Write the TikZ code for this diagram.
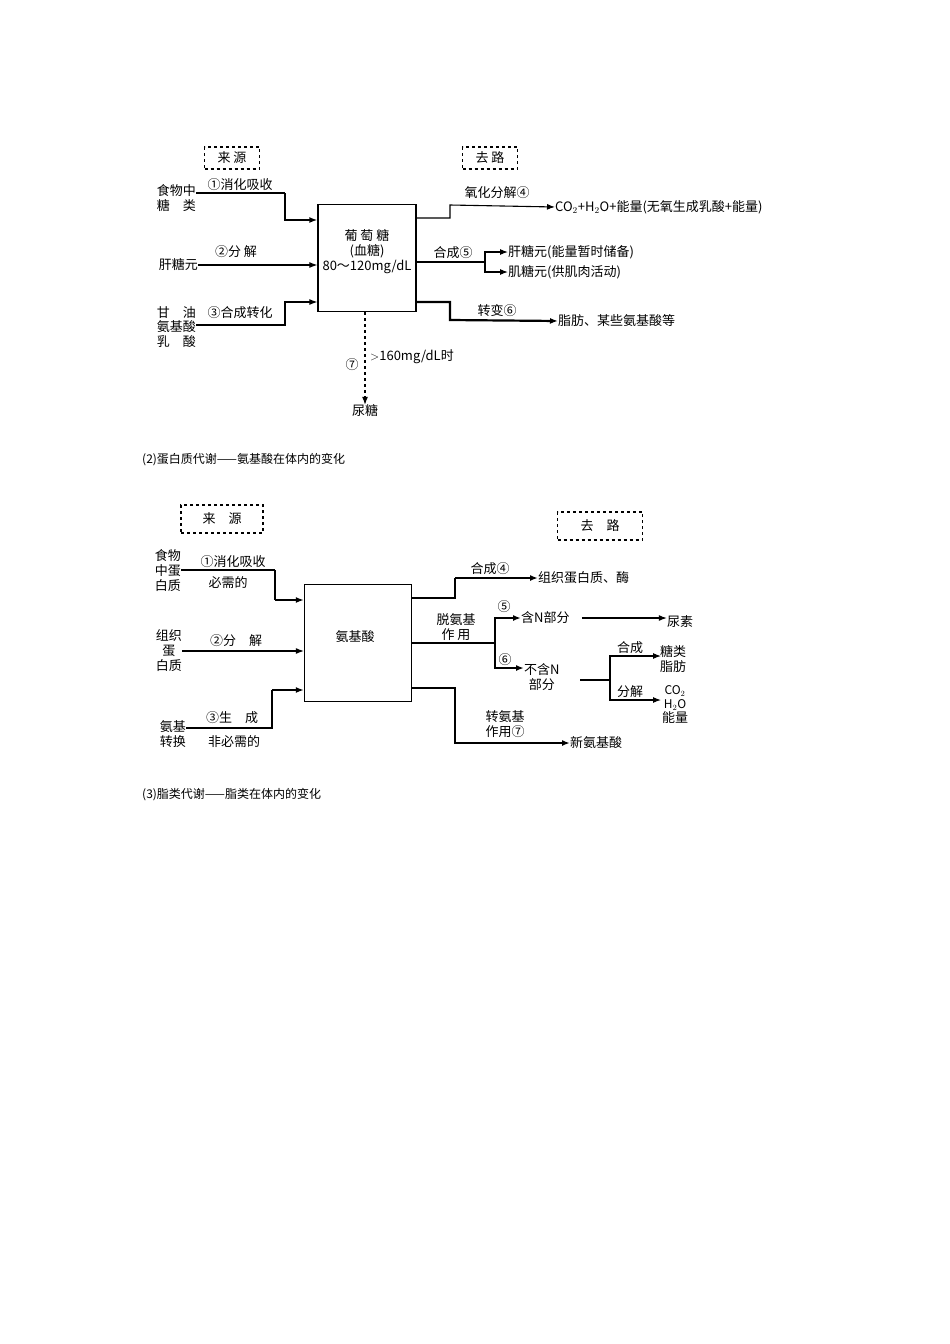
\documentclass[tikz,border=0pt]{standalone}
\usepackage{fontspec}
\setmainfont{Noto Sans CJK SC}
\usetikzlibrary{arrows.meta}
\begin{document}
\begin{tikzpicture}[x=1pt,y=-1pt,
  every node/.style={inner sep=0pt,font=\fontsize{13}{15}\selectfont},
  ln/.style={line width=1.1pt},
  tk/.style={line width=2.2pt},
  ar/.style={-{Latex[length=8pt,width=6pt]}},
  dbox/.style={draw,dashed,line width=1.3pt,minimum height=22pt},
  mbox/.style={draw,line width=1.3pt},
  sm/.style={font=\fontsize{12}{14}\selectfont}]
\useasboundingbox (0,0) rectangle (950,1344);
% ---------- diagram 1 ----------
\node[dbox,minimum width=55pt] (s1) at (232,158) {来 源};
\node[dbox,minimum width=55pt] (g1) at (490,158) {去 路};
\node[mbox,minimum width=98pt,minimum height=107pt] (B1) at (367,258) {};
\node[align=center] (B1t) at (367,252) {葡 萄 糖\\(血糖)\\80～120mg/dL};
\node[align=left,anchor=east] (a1) at (196,198) {食物中\\糖\quad 类};
\node[anchor=east] (a2) at (198,265) {肝糖元};
\node[align=left,anchor=east,font=\fontsize{13}{14.5}\selectfont] (a3) at (196,327) {甘\quad 油\\氨基酸\\乳\quad 酸};
\coordinate (c11) at (285,193); \coordinate (c12) at (285,220);
\draw[ln] (a1.east|-c11) -- (c11);
\draw[tk,ar] (c11) -- (c12) -- (B1.west|-c12);
\node at (240,185) {①消化吸收};
\draw[ln,ar] (a2) -- (B1.west|-a2);
\node at (236,252) {②分 解};
\coordinate (c31) at (285,325); \coordinate (c32) at (285,302);
\draw[ln,ar] (a3.east|-c31) -- (c31) -- (c32) -- (B1.west|-c32);
\node at (240,313) {③合成转化};
% right
\node[anchor=west] (r1) at (555,207) {CO$_2$+H$_2$O+能量(无氧生成乳酸+能量)};
\coordinate (d1) at (450,218); \coordinate (d2) at (450,205);
\draw[ln,ar] (B1.east|-d1) -- (d1) -- (d2) -- (r1.west);
\node at (497,193) {氧化分解④};
\node[anchor=west] (r2a) at (508,252) {肝糖元(能量暂时储备)};
\node[anchor=west] (r2b) at (508,272) {肌糖元(供肌肉活动)};
\coordinate (e1) at (485,262);
\draw[ln] (B1.east|-e1) -- (e1);
\draw[ln,ar] (e1) |- (r2a.west);
\draw[ln,ar] (e1) |- (r2b.west);
\node at (453,253) {合成⑤};
\node[anchor=west] (r3) at (558,321) {脂肪、某些氨基酸等};
\coordinate (f1) at (450,302); \coordinate (f2) at (450,320);
\draw[tk,ar] (B1.east|-f1) -- (f1) -- (f2) -- (r3.west);
\node at (497,311) {转变⑥};
\node (u) at (365,411) {尿糖};
\draw[ln,dashed,ar] (B1.south-|u) -- (u.north);
\node at (352,365) {⑦};
\node[anchor=west] at (370,357) {$>$160mg/dL时};
\node[anchor=west,sm] (cap1) at (142,460) {(2)蛋白质代谢——氨基酸在体内的变化};
% ---------- diagram 2 ----------
\node[dbox,minimum width=82pt,minimum height=28pt] (s2) at (222,519) {来\quad 源};
\node[dbox,minimum width=85pt,minimum height=28pt] (g2) at (600,526) {去\quad 路};
\node[mbox,minimum width=107pt,minimum height=117pt] (B2) at (358,643) {};
\node (B2t) at (355,637) {氨基酸};
\node[align=center,anchor=east] (p1) at (181,571) {食物\\中蛋\\白质};
\node[align=center,anchor=east] (p2) at (182,651) {组织\\蛋\\白质};
\node[align=center,anchor=east] (p3) at (186,734) {氨基\\转换};
\coordinate (h1) at (275,570); \coordinate (h2) at (275,600);
\draw[tk] (p1.east|-h1) -- (h1);
\draw[ln] (h1) -- (h2);
\draw[tk,ar] (h2) -- (B2.west|-h2);
\node at (233,562) {①消化吸收};
\node at (228,583) {必需的};
\draw[ln,ar] (p2) -- (B2.west|-p2);
\node at (236,641) {②分\quad 解};
\coordinate (k1) at (272,728); \coordinate (k2) at (272,690);
\draw[ln] (p3.east|-k1) -- (k1) -- (k2);
\draw[tk,ar] (k2) -- (B2.west|-k2);
\node at (232,718) {③生\quad 成};
\node at (234,742) {非必需的};
% right
\node[anchor=west] (q1) at (538,578) {组织蛋白质、酶};
\coordinate (m1) at (455,598); \coordinate (m2) at (455,578);
\draw[ln] (B2.east|-m1) -- (m1) -- (m2);
\draw[tk,ar] (m2) -- (q1.west);
\node at (490,569) {合成④};
\coordinate (n1) at (495,643);
\draw[ln] (B2.east|-n1) -- (n1);
\node[align=center] at (456,627) {脱氨基\\作\ 用};
\node[anchor=west] (q2) at (521,618) {含N部分};
\node[align=center,anchor=west] (q3) at (524,677) {不含N\\部分};
\draw[tk,ar] (n1) |- (q2.west);
\draw[tk,ar] (n1) |- (q3.west|-0,668);
\node at (504,607) {⑤};
\node at (505,660) {⑥};
\node (q4) at (680,622) {尿素};
\draw[ln,ar] (q2.east) ++(12,0) coordinate (o1) -- (q4.west|-o1);
\coordinate (t1) at (610,680);
\draw[tk] (580,680) coordinate (t0) -- (t1);
\node[align=center] (q5) at (673,659) {糖类\\脂肪};
\node[align=center,sm] (q6) at (675,705) {CO$_2$\\H$_2$O\\\fontsize{13}{15}\selectfont 能量};
\draw[ln,ar] (t1) |- (661,656);
\draw[ln,ar] (t1) |- (661,700);
\node at (630,648) {合成};
\node at (630,692) {分解};
\node[anchor=west] (q7) at (570,743) {新氨基酸};
\coordinate (w1) at (455,688); \coordinate (w2) at (455,743);
\draw[tk,ar] (B2.east|-w1) -- (w1) -- (w2) -- (q7.west);
\node[align=center] at (505,724) {转氨基\\作用⑦};
\node[anchor=west,sm] (cap2) at (142,795) {(3)脂类代谢——脂类在体内的变化};
\end{tikzpicture}
\end{document}
